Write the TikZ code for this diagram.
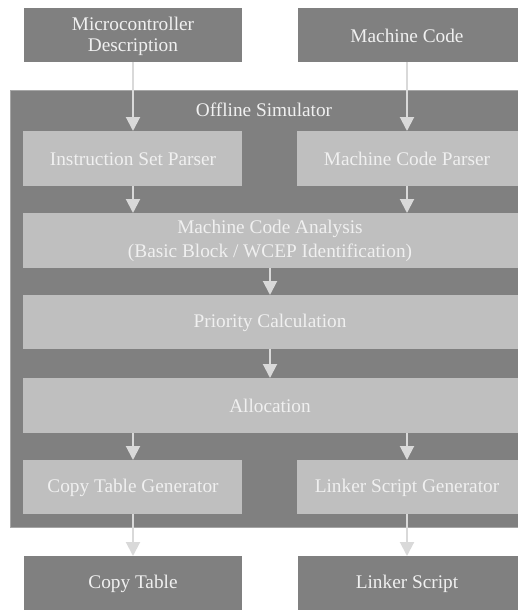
\documentclass[tikz,border=0pt]{standalone}
\usepackage{fontspec}
\setmainfont{Liberation Serif}
\usetikzlibrary{arrows.meta}
\definecolor{darkbox}{RGB}{128,128,128}
\definecolor{lightbox}{RGB}{191,191,191}
\definecolor{textcol}{RGB}{240,240,240}
\definecolor{arrowcol}{RGB}{217,217,217}
\tikzset{
  outerbox/.style={draw=darkbox!70!white, line width=0.8pt, fill=darkbox},
  iobox/.style={fill=darkbox},
  stagebox/.style={fill=lightbox},
  lbl/.style={text=textcol, font=\fontsize{19.3}{21}\selectfont, align=center},
  flow/.style={draw=arrowcol, line width=2pt, -{Triangle[width=14pt,length=14pt]}}
}
\begin{document}
\begin{tikzpicture}[x=1pt, y=-1pt]
\useasboundingbox (0,0) rectangle (517,610);
% simulator frame
\draw[outerbox] (10,90) rectangle (518,527);
\node[lbl] (sim) at (264,110) {Offline Simulator};
% inputs
\fill[iobox] (24,8) rectangle (242,62);
\node[lbl] (mcu) at (133,36) {Microcontroller\\Description};
\fill[iobox] (298,8) rectangle (518,62);
\node[lbl] (mc) at (407,36) {Machine Code};
% stages
\fill[stagebox] (23,131) rectangle (242,186);
\node[lbl] (isp) at (133,159) {Instruction Set Parser};
\fill[stagebox] (297,131) rectangle (518,186);
\node[lbl] (mcp) at (407,159) {Machine Code Parser};
\fill[stagebox] (23,213) rectangle (518,268);
\node[lbl, font=\fontsize{19.3}{24}\selectfont] (mca) at (270,241) {Machine Code Analysis\\(Basic Block / WCEP Identification)};
\fill[stagebox] (23,295) rectangle (518,349);
\node[lbl] (prio) at (270,323) {Priority Calculation};
\fill[stagebox] (23,378) rectangle (518,433);
\node[lbl] (alloc) at (270,406) {Allocation};
\fill[stagebox] (23,460) rectangle (242,514);
\node[lbl] (ctg) at (133,488) {Copy Table Generator};
\fill[stagebox] (297,460) rectangle (518,514);
\node[lbl] (lsg) at (407,488) {Linker Script Generator};
% outputs
\fill[iobox] (24,556) rectangle (242,612);
\node[lbl] (ct) at (133,584) {Copy Table};
\fill[iobox] (298,556) rectangle (518,612);
\node[lbl] (ls) at (407,584) {Linker Script};
% anchor points on box edges
\coordinate (mcuB) at (133,62);
\coordinate (ispT) at (133,131);
\coordinate (mcB) at (407,62);
\coordinate (mcpT) at (407,131);
\coordinate (ispB) at (133,186);
\coordinate (mcaTL) at (133,213);
\coordinate (mcpB) at (407,186);
\coordinate (mcaTR) at (407,213);
\coordinate (mcaB) at (270,268);
\coordinate (prioT) at (270,295);
\coordinate (prioB) at (270,349);
\coordinate (allocT) at (270,378);
\coordinate (allocBL) at (133,433);
\coordinate (ctgT) at (133,460);
\coordinate (allocBR) at (407,433);
\coordinate (lsgT) at (407,460);
\coordinate (ctgB) at (133,514);
\coordinate (ctT) at (133,556);
\coordinate (lsgB) at (407,514);
\coordinate (lsT) at (407,556);
% connectors
\draw[flow] (mcuB) -- (ispT);
\draw[flow] (mcB) -- (mcpT);
\draw[flow] (ispB) -- (mcaTL);
\draw[flow] (mcpB) -- (mcaTR);
\draw[flow] (mcaB) -- (prioT);
\draw[flow] (prioB) -- (allocT);
\draw[flow] (allocBL) -- (ctgT);
\draw[flow] (allocBR) -- (lsgT);
\draw[flow] (ctgB) -- (ctT);
\draw[flow] (lsgB) -- (lsT);
\end{tikzpicture}
\end{document}
